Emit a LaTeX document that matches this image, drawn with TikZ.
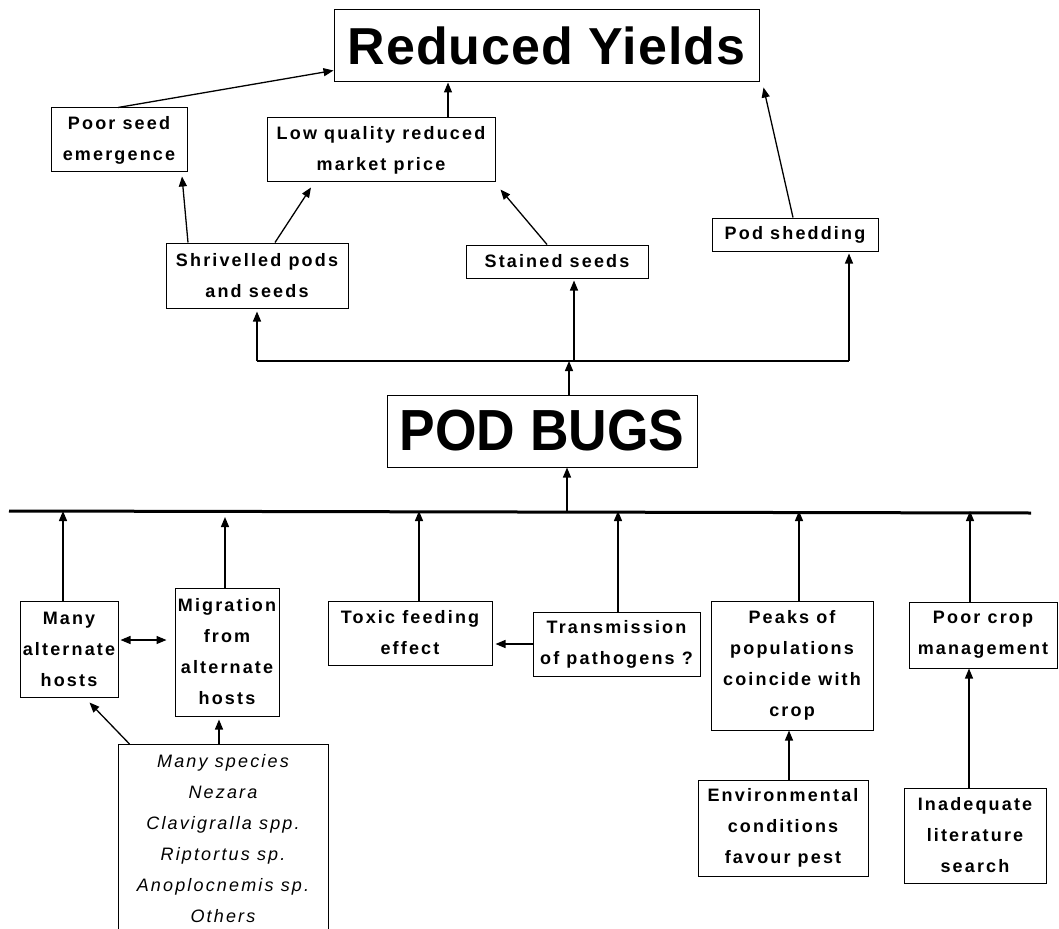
\documentclass[tikz,border=0pt]{standalone}
\usepackage{fontspec}
\setmainfont{Liberation Sans}
\newfontfamily\boxfont[LetterSpace=12]{Liberation Sans}
\newfontfamily\bigfont[LetterSpace=2]{Liberation Sans}
\newfontfamily\podfont[FakeStretch=0.92]{Liberation Sans}
\usetikzlibrary{arrows.meta}

\begin{document}
\begin{tikzpicture}[x=1pt,y=-1pt,
  box/.style={draw,line width=1pt,inner sep=0pt,align=center,
    font=\boxfont\bfseries\fontsize{18}{31}\selectfont},
  arr/.style={-{Triangle[length=10pt,width=8pt]},line width=1.3pt},
  bar/.style={line width=1.6pt},
  thickbar/.style={line width=3pt}]
  \useasboundingbox (0,0) rectangle (1059,928);
  \clip (0,0) rectangle (1059,928);

  % effects
  \node[box,minimum width=425,minimum height=72,
    font=\bigfont\bfseries\fontsize{52}{60}\selectfont] (yields) at (546.5,46) {Reduced Yields};
  \node[box,minimum width=136,minimum height=64] (seed) at (119,140) {Poor seed\\emergence};
  \node[box,minimum width=228,minimum height=64] (price) at (381,150) {Low quality reduced\\market price};
  \node[box,minimum width=182,minimum height=65] (shriv) at (257,275.5) {Shrivelled pods\\and seeds};
  \node[box,minimum width=182,minimum height=33] (stained) at (557,261.5) {Stained seeds};
  \node[box,minimum width=166,minimum height=33] (shed) at (795,234.5) {Pod shedding};

  \node[box,minimum width=310,minimum height=72,
    font=\podfont\bfseries\fontsize{58}{66}\selectfont] (pod) at (542,431) {POD BUGS};

  % causes
  \node[box,minimum width=98,minimum height=96] (hosts) at (69,649) {Many\\alternate\\hosts};
  \node[box,minimum width=104,minimum height=128] (migr) at (227,652) {Migration\\from\\alternate\\hosts};
  \node[box,minimum width=164,minimum height=64] (toxic) at (410,633) {Toxic feeding\\effect};
  \node[box,minimum width=167,minimum height=64] (trans) at (616.5,644) {Transmission\\of pathogens ?};
  \node[box,minimum width=162,minimum height=129] (peaks) at (792,665.5) {Peaks of\\populations\\coincide with\\crop};
  \node[box,minimum width=148,minimum height=66] (crop) at (983,635) {Poor crop\\management};
  \node[box,minimum width=170,minimum height=96] (env) at (783,828) {Environmental\\conditions\\favour pest};
  \node[box,minimum width=142,minimum height=95] (lit) at (975,835.5) {Inadequate\\literature\\search};
  \node[box,anchor=north,minimum width=210,inner ysep=10pt,
    font=\boxfont\itshape\fontsize{18}{31}\selectfont] (species) at (223,744)
    {Many species\\Nezara\\Clavigralla spp.\\Riptortus sp.\\Anoplocnemis sp.\\Others};

  % upper links
  \draw[arr] ([xshift=-1pt]seed.north) -- ([yshift=12pt]yields.south west);
  \draw[arr] ([xshift=67pt]price.north) -- ([xshift=67pt]price.north |- yields.south);
  \draw[arr] ([xshift=-69pt]shriv.north) -- ([shift={(63pt,-4pt)}]seed.south);
  \draw[arr] ([xshift=18pt]shriv.north) -- ([shift={(-70pt,-5pt)}]price.south);
  \draw[arr] ([xshift=-10pt]stained.north) -- ([shift={(5pt,-7pt)}]price.south east);
  \draw[arr] ([xshift=-2pt]shed.north) -- ([shift={(4pt,-5pt)}]yields.south east);

  \coordinate (jt) at ([xshift=27pt]pod.north |- 0,361);
  \coordinate (jl) at (shriv.south |- jt);
  \coordinate (jr) at ([xshift=54pt]shed.south |- jt);
  \draw[bar] (jl) -- (jr);
  \draw[arr,shorten >=3pt] (jl) -- (shriv.south);
  \draw[arr,shorten >=2pt] ([xshift=17pt]stained.south |- jt) -- ([xshift=17pt]stained.south);
  \draw[arr,shorten >=2pt] (jr) -- ([xshift=54pt]shed.south);
  \draw[arr] ([xshift=27pt]pod.north) -- (jt);

  % lower links
  \coordinate (bl) at (9,511);
  \coordinate (br) at (1031,513);
  \draw[thickbar] (bl) -- (br);
  \draw[arr] ([xshift=25pt]pod.south |- bl) -- ([xshift=25pt]pod.south);
  \draw[arr] ([xshift=-6pt]hosts.north) -- ([xshift=-6pt]hosts.north |- bl);
  \draw[arr,shorten >=6pt] ([xshift=-2pt]migr.north) -- ([xshift=-2pt]migr.north |- bl);
  \draw[arr] ([xshift=9pt]toxic.north) -- ([xshift=9pt]toxic.north |- bl);
  \draw[arr] ([xshift=1.5pt]trans.north) -- ([xshift=1.5pt]trans.north |- bl);
  \draw[arr] ([xshift=7pt]peaks.north) -- ([xshift=7pt]peaks.north |- bl);
  \draw[arr] ([xshift=-13pt]crop.north) -- ([xshift=-13pt]crop.north |- bl);

  \draw[{Triangle[length=10pt,width=8pt]}-{Triangle[length=10pt,width=8pt]},line width=1.3pt,
    shorten <=2pt,shorten >=8pt] ([yshift=9pt]hosts.east) -- ([yshift=9pt]hosts.east -| migr.west);
  \draw[arr] ([xshift=12pt]species.north west) -- ([shift={(70pt,-5pt)}]hosts.south west);
  \draw[arr,shorten >=3pt] ([xshift=-4pt]species.north) -- ([xshift=-4pt]species.north |- migr.south);
  \draw[arr,shorten >=3pt] (trans.west) -- (trans.west -| toxic.east);
  \draw[arr] ([xshift=6pt]env.north) -- ([xshift=6pt]env.north |- peaks.south);
  \draw[arr] ([xshift=-6pt]lit.north) -- ([xshift=-6pt]lit.north |- crop.south);
\end{tikzpicture}
\end{document}
